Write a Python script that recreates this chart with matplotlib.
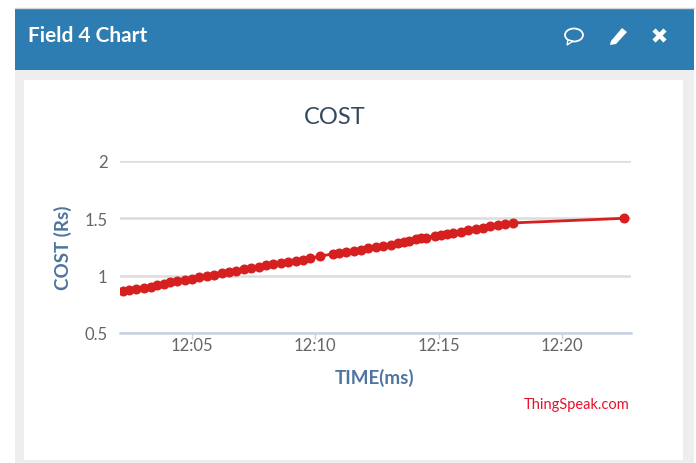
import matplotlib
matplotlib.use("Agg")
import matplotlib.pyplot as plt
from matplotlib.patches import Rectangle, Ellipse, Polygon

plt.rcParams['font.family'] = ['Lato', 'DejaVu Sans']

# minutes past 12:00
minutes = [2.2, 2.45, 2.72, 3.05, 3.33, 3.6, 3.85, 4.1, 4.4, 4.7, 5.0, 5.3, 5.6, 5.9,
           6.2, 6.5, 6.8, 7.1, 7.4, 7.7, 8.0, 8.3, 8.6, 8.9, 9.2, 9.5, 9.8, 10.19,
           10.72, 10.98, 11.25, 11.55, 11.85, 12.15, 12.45, 12.75, 13.05, 13.35, 13.6, 13.8,
           14.08, 14.3, 14.5, 14.85, 15.1, 15.35, 15.6, 15.9, 16.2, 16.5, 16.8, 17.1, 17.4, 17.7, 18.0,
           22.5]
cost = [0.865, 0.875, 0.885, 0.895, 0.905, 0.915, 0.93, 0.945, 0.955, 0.965, 0.975, 0.985, 1.0, 1.01,
        1.02, 1.03, 1.04, 1.055, 1.065, 1.075, 1.09, 1.10, 1.11, 1.12, 1.13, 1.14, 1.15, 1.17,
        1.19, 1.20, 1.205, 1.215, 1.225, 1.24, 1.25, 1.26, 1.27, 1.285, 1.295, 1.30,
        1.32, 1.325, 1.33, 1.35, 1.355, 1.365, 1.375, 1.385, 1.395, 1.41, 1.42, 1.43, 1.44, 1.45, 1.46,
        1.50]
y_ticks = [0.5, 1, 1.5, 2]
y_labels = ['0.5', '1', '1.5', '2']
x_ticks = [5, 10, 15, 20]
x_labels = ['12:05', '12:10', '12:15', '12:20']

W, H = 696, 464
fig = plt.figure(figsize=(W / 100, H / 100), dpi=100, facecolor='white')

# page frame, in pixels from the top left
bg = fig.add_axes([0, 0, 1, 1])
bg.set_xlim(0, W)
bg.set_ylim(H, 0)
bg.axis('off')
bg.add_patch(Rectangle((15, 9), 679, 455, fc='#eeeeee', ec='none'))
bg.add_patch(Rectangle((15, 9), 679, 62, fc='#2e7db2', ec='none'))
bg.add_patch(Rectangle((24, 81), 659, 380, fc='white', ec='none'))
bg.plot([15, 694], [8.5, 8.5], color='#d5d5d5', lw=1)
bg.text(28, 36, 'Field 4 Chart', color='white', fontsize=15, fontweight='bold', va='center')

# header icons
bg.add_patch(Ellipse((574, 36), 18, 13, fc='none', ec='white', lw=1.3))
bg.add_patch(Polygon([(568, 41), (567, 46), (573, 42)], fc='#2e7db2', ec='white', lw=1))
bg.add_patch(Polygon([(611, 42), (622, 29), (627, 33), (616, 45), (610, 46)], fc='white', ec='none'))
bg.plot([654, 665], [31, 42], color='white', lw=3.2, solid_capstyle='butt')
bg.plot([665, 654], [31, 42], color='white', lw=3.2, solid_capstyle='butt')

bg.text(335, 117, 'COST', color='#34495e', fontsize=17, ha='center', va='center')
bg.text(630, 405, 'ThingSpeak.com', color='#e8112d', fontsize=10.5, ha='right', va='center')

ax = fig.add_axes([120 / W, 1 - 334 / H, 511 / W, 172 / H])
ax.patch.set_alpha(0)
ax.set_xlim(2.08, 22.8)
ax.set_ylim(0.5, 2)
ax.plot(minutes, cost, color='#d62020', lw=2, marker='o', ms=6.2, mec='#d62020', zorder=3)

ax.set_yticks(y_ticks, y_labels)
ax.set_xticks(x_ticks, x_labels)
ax.grid(axis='y', color='#dcdcdc', lw=1.8)
ax.set_axisbelow(True)
for side in ['top', 'left', 'right']:
    ax.spines[side].set_visible(False)
ax.spines['bottom'].set_color('#c6d2dd')
ax.spines['bottom'].set_linewidth(1.8)
ax.tick_params(axis='y', length=0, pad=9, labelsize=12, labelcolor='#666666')
ax.tick_params(axis='x', length=4, width=1, color='#c6d2dd', pad=-1, labelsize=12, labelcolor='#666666')

bg.text(375, 378, 'TIME(ms)', color='#4d759e', fontsize=13.5, fontweight='bold', ha='center', va='center')
bg.text(63, 248, 'COST (Rs)', color='#4d759e', fontsize=13.5, fontweight='bold', ha='center', va='center', rotation=90)

fig.savefig('out.png', dpi=100)
